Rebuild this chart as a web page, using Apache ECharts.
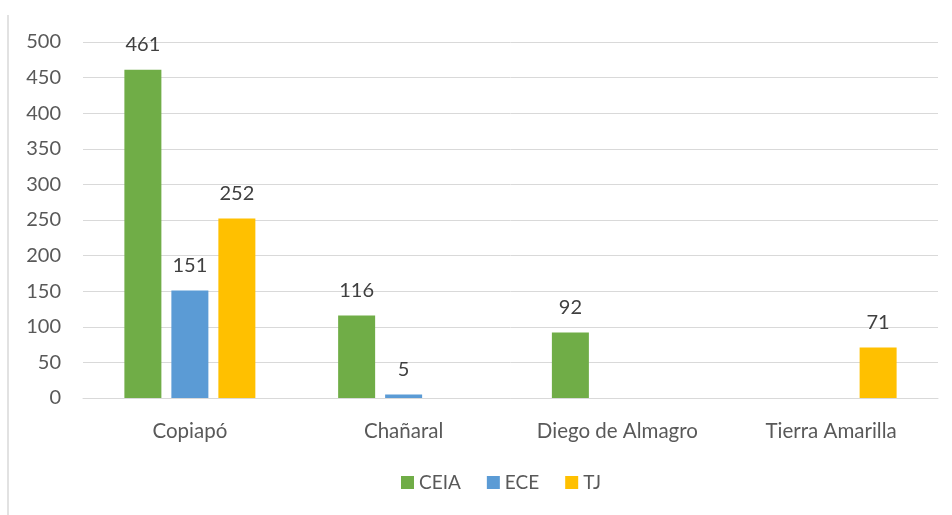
<!DOCTYPE html>
<html>
<head>
<meta charset="utf-8">
<script src="https://cdn.jsdelivr.net/npm/echarts@6/dist/echarts.min.js"></script>
<style>
  html, body { margin: 0; padding: 0; background: #fff; }
  #chart { width: 952px; height: 515px; }
</style>
</head>
<body>
<div id="chart"></div>
<script>
const categories = ['Copiapó', 'Chañaral', 'Diego de Almagro', 'Tierra Amarilla']
const ceia = [461, 116, 92, null]
const ece = [151, 5, null, null]
const tj = [252, null, null, 71]
const yTicks = { min: 0, max: 500, interval: 50 }

const font = 'Lato, "Open Sans", sans-serif'
const labelStyle = {
  show: true,
  position: 'top',
  distance: 15,
  color: '#404040',
  fontSize: 20,
  fontFamily: font
}

const chart = echarts.init(document.getElementById('chart'))
chart.setOption({
  animation: false,
  textStyle: { fontFamily: font },
  graphic: [
    // thin frame line on the left edge
    {
      type: 'line',
      shape: { x1: 8, y1: 15, x2: 8, y2: 515 },
      style: { stroke: '#d9d9d9', lineWidth: 1.5 }
    }
  ],
  grid: { left: 83, right: 14, top: 42, bottom: 117 },
  legend: {
    bottom: 18,
    left: 396,
    itemWidth: 13,
    itemHeight: 13,
    itemGap: 26,
    icon: 'rect',
    textStyle: { color: '#595959', fontSize: 19, fontFamily: font },
    data: ['CEIA', 'ECE', 'TJ']
  },
  xAxis: {
    type: 'category',
    data: categories,
    axisLine: { lineStyle: { color: '#d9d9d9' } },
    axisTick: { show: false },
    axisLabel: { interval: 0, color: '#595959', fontSize: 20.5, margin: 23, fontFamily: font }
  },
  yAxis: {
    type: 'value',
    min: yTicks.min,
    max: yTicks.max,
    interval: yTicks.interval,
    axisLine: { show: false },
    axisTick: { show: false },
    splitLine: { lineStyle: { color: '#d9d9d9' } },
    axisLabel: { color: '#595959', fontSize: 20, margin: 22, fontFamily: font }
  },
  series: [
    { name: 'CEIA', type: 'bar', data: ceia, barWidth: 37, barGap: '27%',
      itemStyle: { color: '#70AD47' }, label: labelStyle },
    { name: 'ECE', type: 'bar', data: ece, barWidth: 37, barGap: '27%',
      itemStyle: { color: '#5B9BD5' }, label: labelStyle },
    { name: 'TJ', type: 'bar', data: tj, barWidth: 37, barGap: '27%',
      itemStyle: { color: '#FFC000' }, label: labelStyle }
  ]
})
</script>
</body>
</html>
